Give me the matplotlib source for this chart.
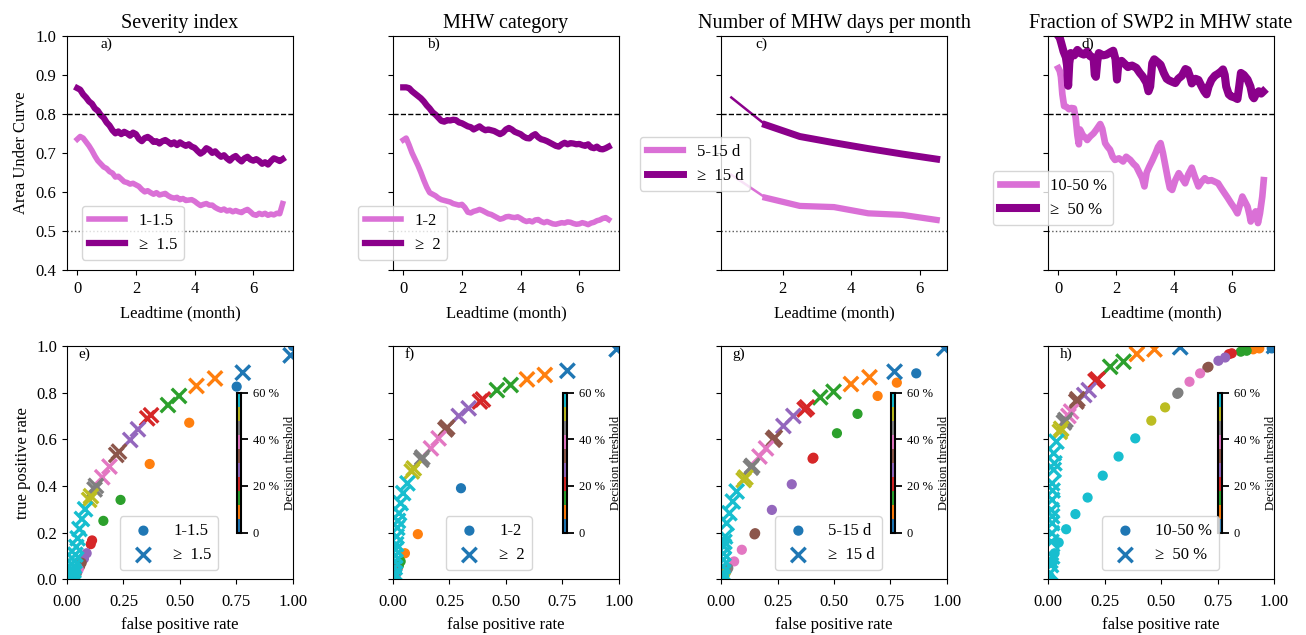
import matplotlib
matplotlib.use('Agg')
import matplotlib.pyplot as plt
from matplotlib.colors import Normalize
from matplotlib.cm import ScalarMappable

plt.rcParams['font.family'] = ['Liberation Serif', 'DejaVu Serif']
plt.rcParams['mathtext.fontset'] = 'stix'

# ---------------- top row: AUC vs leadtime ----------------
lead_a = [i / 10 for i in range(71)]
auc_a_low = [0.735, 0.742, 0.738, 0.728, 0.718, 0.706, 0.692, 0.680, 0.672, 0.664,
             0.660, 0.652, 0.648, 0.638, 0.640, 0.633, 0.626, 0.624, 0.620, 0.622,
             0.618, 0.614, 0.606, 0.600, 0.603, 0.598, 0.594, 0.598, 0.592, 0.594,
             0.596, 0.590, 0.586, 0.584, 0.586, 0.580, 0.583, 0.578, 0.579, 0.580,
             0.576, 0.570, 0.565, 0.568, 0.570, 0.566, 0.566, 0.560, 0.556, 0.553,
             0.556, 0.551, 0.553, 0.549, 0.552, 0.549, 0.547, 0.552, 0.555, 0.549,
             0.542, 0.540, 0.545, 0.542, 0.545, 0.540, 0.543, 0.541, 0.545, 0.544,
             0.570]
auc_a_high = [0.866, 0.862, 0.850, 0.842, 0.832, 0.826, 0.814, 0.808, 0.797, 0.790,
              0.778, 0.770, 0.758, 0.750, 0.755, 0.748, 0.754, 0.750, 0.744, 0.752,
              0.748, 0.736, 0.730, 0.738, 0.741, 0.736, 0.728, 0.730, 0.724, 0.730,
              0.733, 0.728, 0.722, 0.727, 0.720, 0.727, 0.722, 0.718, 0.722, 0.716,
              0.713, 0.705, 0.698, 0.703, 0.712, 0.708, 0.700, 0.704, 0.696, 0.690,
              0.694, 0.686, 0.680, 0.688, 0.692, 0.684, 0.678, 0.686, 0.690, 0.683,
              0.680, 0.684, 0.679, 0.672, 0.676, 0.670, 0.679, 0.686, 0.683, 0.679,
              0.684]

lead_b = [i / 10 for i in range(71)]
auc_b_low = [0.733, 0.738, 0.720, 0.700, 0.684, 0.668, 0.650, 0.630, 0.612, 0.598,
             0.594, 0.590, 0.584, 0.580, 0.578, 0.576, 0.574, 0.570, 0.568, 0.566,
             0.568, 0.560, 0.548, 0.546, 0.550, 0.552, 0.555, 0.552, 0.548, 0.544,
             0.542, 0.538, 0.534, 0.530, 0.532, 0.536, 0.537, 0.535, 0.534, 0.536,
             0.532, 0.527, 0.524, 0.526, 0.523, 0.528, 0.529, 0.524, 0.521, 0.524,
             0.521, 0.518, 0.517, 0.519, 0.521, 0.520, 0.523, 0.522, 0.519, 0.517,
             0.518, 0.521, 0.519, 0.516, 0.520, 0.522, 0.526, 0.528, 0.532, 0.534,
             0.529]
auc_b_high = [0.868, 0.868, 0.866, 0.858, 0.852, 0.846, 0.840, 0.832, 0.822, 0.814,
              0.804, 0.798, 0.790, 0.782, 0.780, 0.784, 0.783, 0.785, 0.784, 0.778,
              0.776, 0.772, 0.768, 0.766, 0.760, 0.764, 0.768, 0.762, 0.758, 0.760,
              0.758, 0.756, 0.752, 0.748, 0.752, 0.760, 0.764, 0.760, 0.754, 0.751,
              0.748, 0.742, 0.738, 0.737, 0.744, 0.748, 0.740, 0.735, 0.733, 0.730,
              0.726, 0.722, 0.718, 0.716, 0.722, 0.726, 0.722, 0.725, 0.724, 0.722,
              0.723, 0.720, 0.718, 0.722, 0.714, 0.712, 0.716, 0.710, 0.709, 0.712,
              0.716]

lead_c = [0.5, 1.5, 2.5, 3.5, 4.5, 5.5, 6.5]
auc_c_low = [0.644, 0.585, 0.564, 0.561, 0.545, 0.541, 0.528]
auc_c_high = [0.842, 0.772, 0.742, 0.726, 0.711, 0.697, 0.684]

lead_d_high = [0.00, 0.05, 0.10, 0.18, 0.26, 0.30, 0.34, 0.38, 0.43, 0.55, 0.66, 0.78,
               0.88, 1.00, 1.10, 1.22, 1.26, 1.30, 1.35, 1.40, 1.55, 1.67, 1.80, 1.90,
               1.98, 2.03, 2.08, 2.19, 2.30, 2.41, 2.55, 2.70, 2.82, 2.92, 3.05, 3.12,
               3.18, 3.25, 3.32, 3.45, 3.54, 3.65, 3.75, 3.83, 3.95, 4.05, 4.15, 4.28,
               4.40, 4.48, 4.56, 4.62, 4.75, 4.85, 4.95, 5.05, 5.13, 5.20, 5.30, 5.42,
               5.53, 5.62, 5.70, 5.76, 5.81, 5.90, 5.98, 6.10, 6.20, 6.26, 6.32, 6.42,
               6.55, 6.65, 6.72, 6.77, 6.85, 6.94, 7.02, 7.09]
auc_d_high = [1.000, 0.995, 0.982, 0.960, 0.945, 0.925, 0.872, 0.930, 0.956, 0.950, 0.964, 0.955,
              0.952, 0.960, 0.948, 0.944, 0.900, 0.895, 0.935, 0.956, 0.950, 0.952, 0.958, 0.962,
              0.940, 0.888, 0.930, 0.936, 0.928, 0.920, 0.924, 0.918, 0.905, 0.896, 0.880, 0.858,
              0.870, 0.930, 0.940, 0.932, 0.926, 0.905, 0.890, 0.886, 0.882, 0.879, 0.890, 0.898,
              0.915, 0.912, 0.895, 0.878, 0.890, 0.887, 0.872, 0.858, 0.850, 0.870, 0.887, 0.898,
              0.903, 0.908, 0.914, 0.900, 0.870, 0.850, 0.845, 0.842, 0.838, 0.870, 0.905, 0.900,
              0.888, 0.870, 0.845, 0.840, 0.852, 0.858, 0.852, 0.857]
lead_d_low = [0.00, 0.05, 0.09, 0.14, 0.20, 0.28, 0.37, 0.45, 0.54, 0.60, 0.66, 0.71,
              0.75, 0.85, 0.95, 1.00, 1.10, 1.22, 1.32, 1.45, 1.52, 1.62, 1.70, 1.79,
              1.88, 1.96, 2.10, 2.24, 2.35, 2.49, 2.60, 2.70, 2.80, 2.90, 2.98, 3.06,
              3.15, 3.25, 3.37, 3.45, 3.54, 3.62, 3.71, 3.80, 3.86, 3.94, 4.05, 4.17,
              4.28, 4.39, 4.50, 4.62, 4.72, 4.85, 4.95, 5.07, 5.18, 5.30, 5.42, 5.53,
              5.65, 5.75, 5.86, 5.98, 6.10, 6.20, 6.28, 6.37, 6.46, 6.55, 6.62, 6.66,
              6.74, 6.83, 6.88, 6.91, 6.98, 7.06, 7.11]
auc_d_low = [0.917, 0.910, 0.895, 0.850, 0.820, 0.818, 0.812, 0.815, 0.814, 0.790, 0.745, 0.722,
             0.760, 0.745, 0.738, 0.733, 0.742, 0.750, 0.760, 0.774, 0.762, 0.725, 0.716, 0.708,
             0.690, 0.682, 0.686, 0.678, 0.690, 0.682, 0.672, 0.665, 0.650, 0.635, 0.614, 0.650,
             0.665, 0.680, 0.700, 0.715, 0.725, 0.700, 0.665, 0.630, 0.610, 0.605, 0.630, 0.648,
             0.635, 0.622, 0.645, 0.662, 0.640, 0.614, 0.625, 0.635, 0.628, 0.630, 0.626, 0.622,
             0.608, 0.597, 0.585, 0.571, 0.558, 0.545, 0.565, 0.588, 0.575, 0.562, 0.540, 0.524,
             0.540, 0.550, 0.535, 0.520, 0.545, 0.588, 0.630]

titles = ['Severity index', 'MHW category', 'Number of MHW days per month',
          'Fraction of SWP2 in MHW state']
labels_low = ['1-1.5', '1-2', '5-15 d', '10-50 %']
labels_high = ['≥  1.5', '≥  2', '≥  15 d', '≥  50 %']
letters_top = ['a)', 'b)', 'c)', 'd)']
letters_bot = ['e)', 'f)', 'g)', 'h)']

# ---------------- bottom row: ROC points ----------------
thresholds = [0.01, 0.04, 0.07, 0.10, 0.13, 0.16, 0.19, 0.22, 0.25, 0.28, 0.31, 0.34,
              0.37, 0.40, 0.43, 0.46, 0.49, 0.52, 0.55, 0.58, 0.61, 0.64, 0.67, 0.70,
              0.73, 0.76, 0.79, 0.82, 0.85, 0.88, 0.91, 0.94, 0.97, 1.00]

fpr_e_low = [1.0, 0.751, 0.541, 0.366, 0.237, 0.161, 0.111, 0.105, 0.087, 0.075, 0.065, 0.058,
             0.052, 0.047, 0.043, 0.040, 0.037, 0.035, 0.033, 0.031, 0.030]
tpr_e_low = [1.0, 0.826, 0.671, 0.494, 0.340, 0.250, 0.166, 0.150, 0.111, 0.088, 0.070, 0.055,
             0.042, 0.032, 0.024, 0.018, 0.012, 0.008, 0.005, 0.003, 0.001]
fpr_e_high = [0.99, 0.778, 0.655, 0.573, 0.496, 0.447, 0.372, 0.355, 0.314, 0.28, 0.230, 0.218,
              0.188, 0.156, 0.128, 0.122, 0.106, 0.098, 0.080, 0.066, 0.055, 0.047, 0.041, 0.037,
              0.034, 0.031, 0.029, 0.027, 0.026, 0.025, 0.025]
tpr_e_high = [0.96, 0.886, 0.861, 0.829, 0.786, 0.747, 0.703, 0.690, 0.643, 0.597, 0.547, 0.533,
              0.483, 0.437, 0.400, 0.385, 0.356, 0.340, 0.300, 0.258, 0.215, 0.175, 0.138, 0.105,
              0.078, 0.055, 0.036, 0.022, 0.012, 0.005, 0.0]

fpr_f_low = [1.0, 0.301, 0.110, 0.053, 0.034, 0.026, 0.020, 0.017, 0.014, 0.012, 0.010, 0.009,
             0.008, 0.007, 0.006, 0.005]
tpr_f_low = [1.0, 0.390, 0.193, 0.111, 0.076, 0.058, 0.045, 0.035, 0.027, 0.020, 0.015, 0.011,
             0.008, 0.005, 0.003, 0.002]
fpr_f_high = [0.99, 0.772, 0.672, 0.593, 0.521, 0.460, 0.398, 0.385, 0.335, 0.291, 0.240, 0.232,
              0.202, 0.168, 0.130, 0.125, 0.092, 0.083, 0.064, 0.045, 0.034, 0.027, 0.022, 0.019,
              0.016, 0.014, 0.012, 0.010, 0.009, 0.008, 0.007, 0.006]
tpr_f_high = [0.986, 0.894, 0.876, 0.857, 0.833, 0.811, 0.771, 0.762, 0.733, 0.700, 0.651, 0.642,
              0.604, 0.561, 0.522, 0.512, 0.475, 0.462, 0.411, 0.369, 0.326, 0.283, 0.250, 0.220,
              0.183, 0.150, 0.126, 0.100, 0.075, 0.050, 0.026, 0.010]

fpr_g_low = [1.0, 0.864, 0.778, 0.693, 0.604, 0.513, 0.409, 0.405, 0.313, 0.225, 0.151, 0.148,
             0.092, 0.058, 0.032, 0.025, 0.020, 0.016, 0.013, 0.011, 0.009, 0.008]
tpr_g_low = [1.0, 0.883, 0.843, 0.786, 0.709, 0.626, 0.521, 0.517, 0.407, 0.297, 0.197, 0.192,
             0.126, 0.076, 0.047, 0.035, 0.025, 0.018, 0.012, 0.008, 0.005, 0.003]
fpr_g_high = [0.988, 0.768, 0.657, 0.575, 0.498, 0.439, 0.380, 0.370, 0.320, 0.276, 0.238, 0.230,
              0.199, 0.170, 0.138, 0.132, 0.108, 0.100, 0.069, 0.052, 0.037, 0.025, 0.018, 0.015,
              0.013, 0.011, 0.010, 0.008, 0.007, 0.006]
tpr_g_high = [0.990, 0.890, 0.866, 0.837, 0.804, 0.780, 0.737, 0.728, 0.700, 0.657, 0.607, 0.598,
              0.561, 0.526, 0.486, 0.478, 0.436, 0.425, 0.376, 0.333, 0.283, 0.240, 0.183, 0.160,
              0.140, 0.110, 0.083, 0.055, 0.026, 0.010]

fpr_h_low = [1.0, 0.990, 0.935, 0.908, 0.879, 0.853, 0.813, 0.800, 0.784, 0.754, 0.710, 0.705,
             0.673, 0.626, 0.577, 0.572, 0.518, 0.457, 0.386, 0.312, 0.242, 0.175, 0.121, 0.080,
             0.047, 0.029, 0.018, 0.007]
tpr_h_low = [1.0, 0.990, 0.990, 0.986, 0.980, 0.976, 0.969, 0.965, 0.951, 0.937, 0.911, 0.908,
             0.883, 0.847, 0.800, 0.795, 0.737, 0.680, 0.604, 0.526, 0.444, 0.350, 0.279, 0.214,
             0.157, 0.111, 0.069, 0.011]
fpr_h_high = [1.0, 0.585, 0.471, 0.393, 0.334, 0.275, 0.219, 0.210, 0.180, 0.160, 0.130, 0.125,
              0.102, 0.090, 0.077, 0.070, 0.058, 0.052, 0.037, 0.025, 0.028, 0.025, 0.018, 0.020,
              0.018, 0.015, 0.018, 0.018, 0.017, 0.015, 0.018, 0.013, 0.010]
tpr_h_high = [1.0, 0.995, 0.986, 0.966, 0.933, 0.911, 0.857, 0.850, 0.811, 0.790, 0.772, 0.762,
              0.719, 0.700, 0.683, 0.672, 0.645, 0.632, 0.590, 0.540, 0.497, 0.469, 0.411, 0.380,
              0.340, 0.297, 0.270, 0.240, 0.197, 0.160, 0.097, 0.060, 0.026]

c_low = '#DA70D6'
c_high = '#8B008B'

fig = plt.figure(figsize=(13.06, 6.35), dpi=100)
lefts = [0.0513, 0.3009, 0.5521, 0.8025]
width = 0.173

top_data = [
    (lead_a, auc_a_low, lead_a, auc_a_high),
    (lead_b, auc_b_low, lead_b, auc_b_high),
    (lead_c, auc_c_low, lead_c, auc_c_high),
    (lead_d_low, auc_d_low, lead_d_high, auc_d_high),
]
top_leg = [(0.066, 0.043), (-0.155, 0.043), (-0.358, 0.338), (-0.243, 0.192)]

for i, (xl, yl, xh, yh) in enumerate(top_data):
    ax = fig.add_axes([lefts[i], 0.575, width, 0.3685])
    if i == 2:
        # first month drawn thin, the rest thick
        ax.plot(xl[:2], yl[:2], color=c_low, lw=1.8)
        ax.plot(xh[:2], yh[:2], color=c_high, lw=1.8)
        ax.plot(xl[1:], yl[1:], color=c_low, lw=4.5, label=labels_low[i])
        ax.plot(xh[1:], yh[1:], color=c_high, lw=5, label=labels_high[i])
    elif i == 3:
        ax.plot(xl, yl, color=c_low, lw=4.8, label=labels_low[i])
        ax.plot(xh, yh, color=c_high, lw=5.8, label=labels_high[i])
    else:
        ax.plot(xl, yl, color=c_low, lw=4.0, label=labels_low[i])
        ax.plot(xh, yh, color=c_high, lw=4.5, label=labels_high[i])
    ax.axhline(0.8, color='k', ls='--', lw=1)
    ax.axhline(0.5, color='0.35', ls=':', lw=1)
    ax.set_ylim(0.4, 1.0)
    ax.set_yticks([0.4, 0.5, 0.6, 0.7, 0.8, 0.9, 1.0])
    ax.set_xticks([0, 2, 4, 6])
    if i == 2:
        ax.set_xlim(0.2, 6.8)
    ax.tick_params(labelsize=12, pad=4.5)
    if i == 0:
        ax.set_ylabel('Area Under Curve', fontsize=12)
    else:
        ax.set_yticklabels([])
    ax.set_xlabel('Leadtime (month)', fontsize=12, labelpad=6)
    ax.set_title(titles[i], fontsize=14.5)
    ax.text(0.15, 0.995, letters_top[i], transform=ax.transAxes, va='top', fontsize=11)
    leg = ax.legend(loc='lower left', bbox_to_anchor=top_leg[i], borderaxespad=0,
                    fontsize=12, handlelength=2.2)
    leg.set_zorder(10)

bot_data = [
    (fpr_e_low, tpr_e_low, fpr_e_high, tpr_e_high),
    (fpr_f_low, tpr_f_low, fpr_f_high, tpr_f_high),
    (fpr_g_low, tpr_g_low, fpr_g_high, tpr_g_high),
    (fpr_h_low, tpr_h_low, fpr_h_high, tpr_h_high),
]
bot_leg_x = [0.235, 0.235, 0.239, 0.239]

norm = Normalize(vmin=0, vmax=0.6)
cmap = plt.get_cmap('tab10')

for i, (fl, tl, fh, th) in enumerate(bot_data):
    ax = fig.add_axes([lefts[i], 0.088, width, 0.367])
    ax.scatter(fl, tl, c=thresholds[:len(fl)], cmap=cmap, norm=norm, s=40, marker='o',
               label=labels_low[i])
    ax.scatter(fh, th, c=thresholds[:len(fh)], cmap=cmap, norm=norm, s=110, marker='x',
               linewidths=2.4, label=labels_high[i])
    ax.set_xlim(0, 1)
    ax.set_ylim(0, 1)
    ax.set_xticks([0, 0.25, 0.5, 0.75, 1.0])
    ax.set_yticks([0, 0.2, 0.4, 0.6, 0.8, 1.0])
    ax.tick_params(labelsize=12)
    ax.tick_params(axis='x', pad=7)
    if i == 0:
        ax.set_ylabel('true positive rate', fontsize=12)
    else:
        ax.set_yticklabels([])
    ax.set_xlabel('false positive rate', fontsize=12, labelpad=5)
    ax.text(0.05, 0.995, letters_bot[i], transform=ax.transAxes, va='top', fontsize=11)

    cax = ax.inset_axes([0.752, 0.2, 0.018, 0.6])
    sm = ScalarMappable(norm=norm, cmap=cmap)
    cb = fig.colorbar(sm, cax=cax, ticks=[0, 0.2, 0.4, 0.6])
    cb.ax.set_yticklabels(['0', '20 %', '40 %', '60 %'])
    cb.ax.tick_params(labelsize=9, width=1.3, length=5)
    cb.outline.set_linewidth(1.5)
    cb.set_label('Decision threshold', fontsize=9)

    leg = ax.legend(loc='lower left', bbox_to_anchor=(bot_leg_x[i], 0.039), borderaxespad=0,
                    fontsize=12)
    leg.set_zorder(10)

fig.savefig('out.png', dpi=100)
